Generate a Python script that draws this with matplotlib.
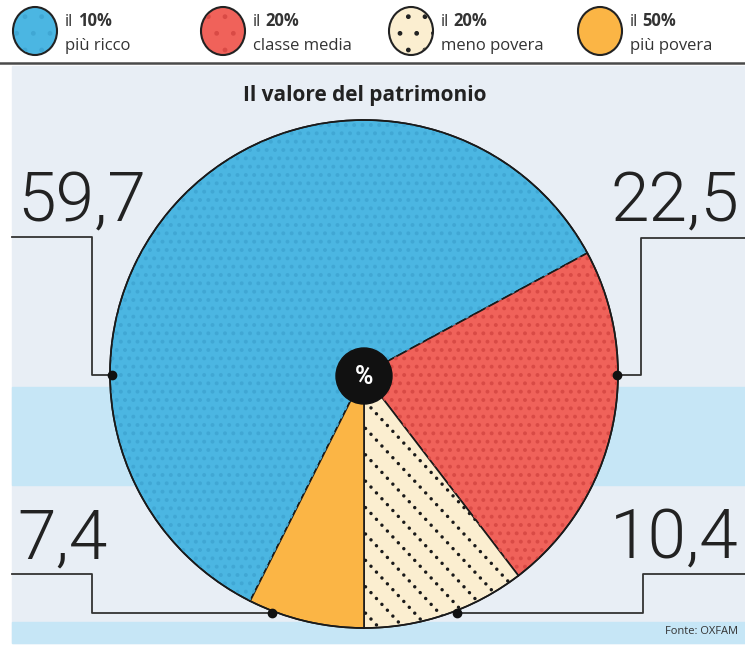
import numpy as np
import matplotlib.pyplot as plt
from matplotlib.patches import Rectangle, Ellipse, Circle, Wedge

# dati (fonte: OXFAM)
groups = ['più ricco', 'classe media', 'meno povera', 'più povera']
shares = ['10%', '20%', '20%', '50%']
values = [59.7, 22.5, 10.4, 7.4]
colors = ['#4bb6e2', '#f0625a', '#fbeed0', '#fbb545']
dots = ['#40a7d4', '#d94a45', '#222222', None]

W, H = 745, 645


def Y(y):
    # pixel coordinates from the top -> data coordinates
    return H - y


def fmt(v):
    return ('%.1f' % v).replace('.', ',')


fig = plt.figure(figsize=(W / 100, H / 100), dpi=100)
ax = fig.add_axes([0, 0, 1, 1])
ax.set_xlim(0, W)
ax.set_ylim(0, H)
ax.axis('off')

# background panel + stripes
ax.add_patch(Rectangle((12, Y(643)), W - 12, 643 - 66, color='#e8eef5', zorder=0))
ax.add_patch(Rectangle((12, Y(485)), W - 12, 485 - 387, color='#c6e6f6', zorder=0))
ax.add_patch(Rectangle((12, Y(643)), W - 12, 643 - 622, color='#c6e6f6', zorder=0))
ax.plot([0, W], [Y(63), Y(63)], color='#4a4a4a', lw=1.8, zorder=1)

# legend
leg_x = [35, 223, 411, 600]
for i in range(4):
    e = Ellipse((leg_x[i], Y(31)), 44, 48, facecolor=colors[i], edgecolor='#222222',
                lw=1.5, zorder=3)
    ax.add_patch(e)
    if dots[i] is not None:
        ax.add_patch(Ellipse((leg_x[i], Y(31)), 42, 46, facecolor='none', edgecolor=dots[i],
                             lw=0, hatch='.', zorder=3))
    t = ax.text(leg_x[i] + 30, Y(22), 'il', fontsize=12, family='Open Sans',
                color='#333333', va='center', ha='left')
    ax.annotate(shares[i], xy=(1, 0), xycoords=t, xytext=(3, 0), textcoords='offset points',
                fontsize=12, family='Open Sans', fontweight='bold', color='#333333',
                va='bottom', ha='left')
    ax.text(leg_x[i] + 30, Y(46), groups[i], fontsize=12, family='Open Sans',
            color='#333333', va='center', ha='left')

ax.text(365, Y(96), 'Il valore del patrimonio', fontsize=15, family='Open Sans',
        fontweight='bold', color='#222222', ha='center', va='center')

# pie
cx, cy, R = 364, Y(374), 254
plt.rcParams['hatch.linewidth'] = 1.6
wedges, _ = ax.pie(values, colors=colors, startangle=270 - 3.6 * values[3],
                   counterclock=False, center=(cx, cy), radius=R, frame=True,
                   wedgeprops=dict(edgecolor='#1a1a1a', linewidth=1.2))
for w in wedges:
    w.set_zorder(2)
for i, w in enumerate(wedges):
    if i < 2:
        ov = Wedge((cx, cy), R, w.theta1, w.theta2, facecolor='none',
                   edgecolor=dots[i], lw=0, hatch='..', zorder=2.5)
        ax.add_patch(ov)

# dotted diagonal lines in the beige wedge
ang = np.deg2rad(-47)
d = np.array([np.cos(ang), np.sin(ang)])
n = np.array([-d[1], d[0]])
for k in range(-40, 41):
    p = np.array([cx, cy]) + k * 18 * n
    a, b = p - 700 * d, p + 700 * d
    ln, = ax.plot([a[0], b[0]], [a[1], b[1]], color='#1a1a1a', lw=2.5,
                  linestyle=(0, (0.01, 2.3)), dash_capstyle='round', zorder=2.6)
    ln.set_clip_path(wedges[2])

ax.add_patch(Circle((cx, cy), R, facecolor='none', edgecolor='#1a1a1a', lw=1.2, zorder=3))

# centre badge
ax.add_patch(Circle((cx, Y(376)), 28, color='#111111', zorder=4))
ax.text(cx, Y(377), '%', color='white', fontsize=18, fontweight='bold', family='Roboto',
        ha='center', va='center', zorder=5)

# connectors and big numbers
lc = '#333333'
conn = [
    ([12, 92, 92, 112], [237, 237, 375, 375], (112, 375)),
    ([W, 641, 641, 617], [238, 238, 375, 375], (617, 375)),
    ([12, 92, 92, 272], [574, 574, 613, 613], (272, 613)),
    ([W, 643, 643, 457], [574, 574, 613, 613], (457, 613)),
]
for xs, ys, dot in conn:
    ax.plot(xs, [Y(v) for v in ys], color=lc, lw=1.3, zorder=3)
    ax.plot(dot[0], Y(dot[1]), 'o', color='#111111', ms=6, zorder=4)

num_style = dict(fontsize=50, family='Roboto', fontweight=300, color='#222222')
ax.text(17, Y(221), fmt(values[0]), ha='left', va='baseline', **num_style)
ax.text(739, Y(221), fmt(values[1]), ha='right', va='baseline', **num_style)
ax.text(17, Y(558), fmt(values[3]), ha='left', va='baseline', **num_style)
ax.text(739, Y(558), fmt(values[2]), ha='right', va='baseline', **num_style)

ax.text(738, Y(632), 'Fonte: OXFAM', fontsize=8, family='Open Sans', color='#333333',
        ha='right', va='center', zorder=5)

ax.set_xlim(0, W)
ax.set_ylim(0, H)
ax.set_aspect('auto')
fig.savefig('out.png', dpi=100)
